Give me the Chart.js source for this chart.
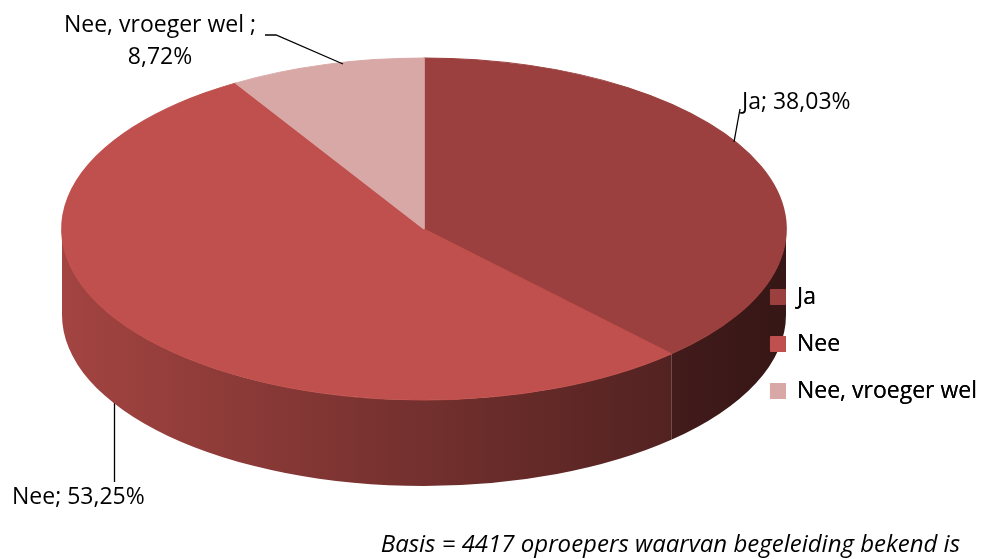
<!DOCTYPE html>
<html>
<head>
<meta charset="utf-8">
<script src="https://cdn.jsdelivr.net/npm/chart.js@4.4.1/dist/chart.umd.min.js"></script>
<style>
  html, body { margin: 0; padding: 0; background: #fff; }
</style>
</head>
<body>
<canvas id="pieChart" width="981" height="559"></canvas>
<script>
// ----- data -----
const categories = ['Ja', 'Nee', 'Nee, vroeger wel'];
const percentages = [38.03, 53.25, 8.72];
const sliceColors = ['#9B403E', '#C0504D', '#D8A8A7'];
const caption = 'Basis = 4417 oproepers waarvan begeleiding bekend is';

// ----- look of the tilted pie -----
const PIE = { cx: 424, cy: 229, rx: 362, ry: 171, depth: 86 };
const FONT = '"Open Sans", "Liberation Sans", sans-serif';

const fmt = v => v.toFixed(2).replace('.', ',') + '%';

function shade(hex, f) {
  const n = parseInt(hex.slice(1), 16);
  const r = Math.round(((n >> 16) & 255) * f);
  const g = Math.round(((n >> 8) & 255) * f);
  const b = Math.round((n & 255) * f);
  return `rgb(${r},${g},${b})`;
}

function line(ctx, pts) {
  ctx.beginPath();
  ctx.moveTo(pts[0][0], pts[0][1]);
  pts.slice(1).forEach(p => ctx.lineTo(p[0], p[1]));
  ctx.stroke();
}

// squash the Chart.js pie into an ellipse and give it a front wall
const tiltPlugin = {
  id: 'tilt3d',
  beforeDatasetsDraw(chart) {
    const ctx = chart.ctx;
    const arcs = chart.getDatasetMeta(0).data;

    // leader line of "Nee" runs behind the pie
    ctx.save();
    ctx.strokeStyle = '#000';
    ctx.lineWidth = 1.3;
    line(ctx, [[114.5, 482], [114.5, 380]]);
    ctx.restore();

    // front wall, only the part between 0 and PI is visible
    arcs.forEach((arc, i) => {
      const a0 = Math.max(arc.startAngle, 0);
      const a1 = Math.min(arc.endAngle, Math.PI);
      if (a1 <= a0) return;
      const grad = ctx.createLinearGradient(PIE.cx - PIE.rx, 0, PIE.cx + PIE.rx, 0);
      grad.addColorStop(0, shade(sliceColors[i], 0.85));
      grad.addColorStop(1, shade(sliceColors[i], 0.35));
      ctx.save();
      ctx.beginPath();
      ctx.ellipse(PIE.cx, PIE.cy, PIE.rx, PIE.ry, 0, a0, a1);
      ctx.ellipse(PIE.cx, PIE.cy + PIE.depth, PIE.rx, PIE.ry, 0, a1, a0, true);
      ctx.closePath();
      ctx.fillStyle = grad;
      ctx.fill();
      ctx.restore();
    });

    // top face: map the library's circle onto the ellipse
    const a = arcs[0];
    ctx.save();
    ctx.translate(PIE.cx, PIE.cy);
    ctx.scale(PIE.rx / a.outerRadius, PIE.ry / a.outerRadius);
    ctx.translate(-a.x, -a.y);
  },
  afterDatasetsDraw(chart) {
    const ctx = chart.ctx;
    ctx.restore();

    // legend squares sit on top of the pie wall
    chart.legend.draw();

    ctx.save();
    ctx.fillStyle = '#000';
    ctx.strokeStyle = '#000';
    ctx.lineWidth = 1.3;
    ctx.font = `23px ${FONT}`;
    ctx.textBaseline = 'middle';

    // Ja
    line(ctx, [[734, 142], [740, 109]]);
    ctx.textAlign = 'left';
    ctx.fillText(`${categories[0]}; ${fmt(percentages[0])}`, 742, 102);

    // Nee
    ctx.fillText(`${categories[1]}; ${fmt(percentages[1])}`, 12, 497);

    // Nee, vroeger wel
    line(ctx, [[265, 35], [276, 35], [343, 64]]);
    ctx.textAlign = 'center';
    ctx.fillText(`${categories[2]} ;`, 160, 25);
    ctx.fillText(fmt(percentages[2]), 160, 57);

    // basis
    ctx.font = `italic 24px ${FONT}`;
    ctx.textAlign = 'right';
    ctx.fillText(caption, 960, 545);
    ctx.restore();
  }
};

new Chart(document.getElementById('pieChart'), {
  type: 'pie',
  data: {
    labels: categories,
    datasets: [{
      data: percentages,
      backgroundColor: sliceColors,
      borderColor: sliceColors,
      borderWidth: 1,
      hoverOffset: 0
    }]
  },
  options: {
    responsive: false,
    animation: false,
    events: [],
    layout: { padding: { top: 129, right: -6, bottom: 0, left: 0 } },
    plugins: {
      legend: {
        position: 'right',
        labels: {
          color: '#000',
          boxWidth: 15,
          boxHeight: 15,
          padding: 24,
          font: { family: FONT, size: 23 }
        }
      },
      tooltip: { enabled: false }
    }
  },
  plugins: [tiltPlugin]
});
</script>
</body>
</html>
